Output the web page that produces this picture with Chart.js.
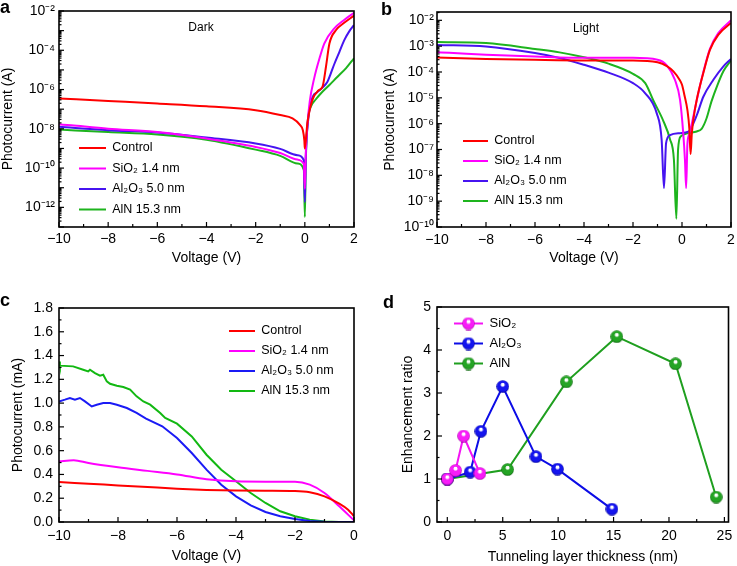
<!DOCTYPE html>
<html><head><meta charset="utf-8">
<script src="https://cdn.jsdelivr.net/npm/chart.js@4.4.0/dist/chart.umd.min.js"></script>
<style>
html,body{margin:0;padding:0;background:#fff;}
#wrap{position:relative;width:737px;height:566px;overflow:hidden;}
.pane{position:absolute;}
.pane canvas{display:block;}
.lbl{position:absolute;font:bold 18px "Liberation Sans",Arial,sans-serif;line-height:18px;color:#000;}
</style></head><body>
<div id="wrap">
  <div class="pane" style="left:0;top:0;"><canvas id="cA" width="368" height="280"></canvas></div>
  <div class="pane" style="left:368px;top:0;"><canvas id="cB" width="369" height="280"></canvas></div>
  <div class="pane" style="left:0;top:280px;"><canvas id="cC" width="368" height="286"></canvas></div>
  <div class="pane" style="left:368px;top:280px;"><canvas id="cD" width="369" height="286"></canvas></div>
  <div class="lbl" style="left:0;top:-2px;">a</div>
  <div class="lbl" style="left:381px;top:0;">b</div>
  <div class="lbl" style="left:0;top:291px;">c</div>
  <div class="lbl" style="left:383px;top:293px;">d</div>
</div>
<script>
// ---------------- DATA ----------------
// Panel a: dark current (A)
const darkV_ctrl = [-10,-8,-6,-4,-2,-1,-0.5,-0.2,-0.08,-0.02,0,0.1,0.3,0.55,0.72,0.86,1.0,1.27,1.6,2.0];
const darkI_ctrl = [3.55e-7,2.63e-7,1.95e-7,1.41e-7,8.9e-8,5.0e-8,3.4e-8,1.58e-8,8.5e-9,2.6e-9,1.0e-9,1.8e-8,2.8e-7,8.9e-7,1.4e-6,1.45e-5,2.2e-4,1.07e-3,2.5e-3,5.8e-3];
const darkV_sio2 = [-10,-9.5,-8,-6,-4,-2,-1,-0.3,-0.04,0,0.04,0.11,0.2,0.38,0.6,0.79,1.2,1.6,2.0];
const darkI_sio2 = [1.7e-8,1.5e-8,1.02e-8,6.9e-9,3.2e-9,1.2e-9,5.9e-10,2.7e-10,1.6e-10,8.9e-12,6.3e-10,1.86e-8,2.5e-7,3.7e-6,4.0e-5,2.2e-4,1.3e-3,3.5e-3,8.1e-3];
const darkV_al2o3 = [-10,-8,-6,-4,-2,-1,-0.3,-0.04,0,0.04,0.15,0.31,0.52,0.72,0.92,1.05,1.2,1.4,1.6,1.8,2.0];
const darkI_al2o3 = [1.26e-8,8.5e-9,6.5e-9,3.6e-9,1.78e-9,9.5e-10,4.5e-10,2.5e-10,1.86e-12,4.0e-10,4.0e-8,4.0e-7,7.6e-7,1.26e-6,2.5e-6,6.3e-6,2.0e-5,7.9e-5,3.2e-4,8.9e-4,1.9e-3];
const darkV_aln = [-10,-8,-6,-4,-2,-1,-0.3,-0.04,0,0.04,0.12,0.24,0.45,0.65,0.99,1.33,1.67,2.0];
const darkI_aln = [9.1e-9,6.9e-9,5.2e-9,2.8e-9,8.7e-10,4.2e-10,1.7e-10,7.9e-11,3.2e-13,2.5e-10,2.5e-8,1.3e-7,3.2e-7,6.3e-7,1.66e-6,4.5e-6,1.2e-5,3.9e-5];

// Panel b: light current (A)
const lightV_ctrl = [-10,-8,-6,-4,-2,-1,-0.6,-0.35,-0.1,0,0.1,0.22,0.3,0.35,0.4,0.47,0.6,0.87,1.14,1.48,2.0];
const lightI_ctrl = [3.6e-4,3.2e-4,2.95e-4,2.8e-4,2.8e-4,2.4e-4,1.66e-4,1.05e-4,5.0e-5,3.2e-5,1.26e-5,3.4e-6,6.3e-7,6.6e-8,4.0e-7,1.58e-6,8.3e-6,9.1e-5,7.2e-4,2.75e-3,7.9e-3];
const lightV_sio2 = [-10,-9.5,-8,-6,-4,-2,-1,-0.63,-0.29,-0.08,0.05,0.12,0.17,0.22,0.3,0.4,0.6,0.87,1.14,1.48,2.0];
const lightI_sio2 = [5.75e-4,5.5e-4,4.7e-4,4.0e-4,3.55e-4,3.55e-4,3.0e-4,1.86e-4,5.0e-5,8.3e-6,4.3e-7,4.0e-8,3.2e-9,1.58e-7,4.0e-7,1.0e-6,7.9e-6,1.0e-4,7.9e-4,3.2e-3,1.0e-2];
const lightV_al2o3 = [-10,-8,-6,-5,-4,-3,-2,-1.5,-1.03,-0.83,-0.735,-0.65,-0.49,-0.08,0.26,0.6,0.87,1.28,1.69,2.0];
const lightI_al2o3 = [1.12e-3,9.8e-4,5.4e-4,3.5e-4,1.9e-4,9.5e-5,3.7e-5,1.5e-5,2.5e-6,2.3e-7,3.2e-9,1.74e-7,3.6e-7,4.3e-7,4.9e-7,2.1e-6,1.1e-5,5.0e-5,1.66e-4,3.2e-4];
const lightV_aln = [-10,-8,-6,-5,-4,-3,-2,-1.5,-1.17,-0.76,-0.49,-0.33,-0.23,-0.16,-0.05,0.26,0.6,0.8,1.0,1.2,1.45,1.7,2.0];
const lightI_aln = [1.45e-3,1.32e-3,7.8e-4,5.75e-4,3.7e-4,2.1e-4,8.5e-5,3.7e-5,7.9e-6,1.26e-6,2.5e-7,4.0e-8,2.1e-10,1.0e-7,3.2e-7,4.3e-7,5.0e-7,6.3e-7,1.58e-6,7.1e-6,3.2e-5,1.12e-4,2.8e-4];

// Panel c: photocurrent (mA)
const pcV_ctrl = [-10,-9,-8,-7,-6,-5,-4,-3,-2,-1.5,-1,-0.5,-0.2,0];
const pcI_ctrl = [0.336,0.322,0.308,0.294,0.28,0.27,0.264,0.262,0.26,0.25,0.216,0.154,0.104,0.048];
const pcV_sio2 = [-10,-9.5,-9,-8,-7,-6,-5,-4,-3,-2,-1.5,-1,-0.5,0];
const pcI_sio2 = [0.51,0.52,0.496,0.46,0.43,0.40,0.36,0.342,0.339,0.339,0.314,0.244,0.132,0.014];
const pcV_al2o3 = [-10,-9.8,-9.63,-9.46,-9.29,-9.12,-8.89,-8.72,-8.5,-8.27,-8.04,-7.7,-7.37,-7.05,-6.5,-6,-5.5,-5,-4.5,-4,-3.5,-3,-2.5,-2,-1.5,-1,-0.5,0];
const pcI_al2o3 = [1.014,1.029,1.043,1.029,1.043,1.015,0.972,0.986,1.0,1.0,0.986,0.959,0.917,0.87,0.805,0.706,0.58,0.44,0.314,0.216,0.14,0.084,0.048,0.025,0.008,0.002,0,0];
const pcV_aln = [-10,-9.97,-9.52,-9.18,-9.01,-8.95,-8.78,-8.61,-8.5,-8.38,-8.27,-8.04,-7.82,-7.59,-7.37,-7.14,-6.91,-6.57,-6.4,-6,-5.5,-5,-4.5,-4,-3.5,-3,-2.5,-2,-1.5,-1,-0.5,0];
const pcI_aln = [1.35,1.315,1.309,1.281,1.267,1.281,1.253,1.231,1.239,1.183,1.163,1.146,1.135,1.113,1.057,1.014,0.987,0.917,0.875,0.827,0.72,0.566,0.44,0.342,0.244,0.16,0.09,0.048,0.02,0.005,0,0];

// Panel d: enhancement ratio vs thickness (nm)
const thick_sio2 = [0,0.74,1.47,2.94];
const ratio_sio2 = [1.0,1.2,2.0,1.13];
const thick_al2o3 = [0,2.06,3.03,5.0,8.0,9.94,14.85];
const ratio_al2o3 = [1.0,1.16,2.11,3.15,1.52,1.23,0.3];
const thick_aln = [0,5.44,10.74,15.29,20.59,24.26];
const ratio_aln = [1.0,1.22,3.26,4.31,3.68,0.58];

// Tick labels
const ticksV_ab = [-10,-8,-6,-4,-2,0,2];
const ticksV_c = [-10,-8,-6,-4,-2,0];
const ticksI_a = [1e-2,1e-4,1e-6,1e-8,1e-10,1e-12];
const ticksI_b = [1e-2,1e-3,1e-4,1e-5,1e-6,1e-7,1e-8,1e-9,1e-10];
const ticksI_c = [0,0.2,0.4,0.6,0.8,1.0,1.2,1.4,1.6,1.8];
const ticksT_d = [0,5,10,15,20,25];
const ticksR_d = [0,1,2,3,4,5];

const names = ['Control','SiO\u2082 1.4 nm','Al\u2082O\u2083 5.0 nm','AlN 15.3 nm'];
const namesD = ['SiO\u2082','Al\u2082O\u2083','AlN'];

// ---------------- HELPERS ----------------
const FONT = '"Liberation Sans", Arial, sans-serif';
Chart.defaults.font.family = FONT;
Chart.defaults.color = '#000';
const SUP = {'-':'\u207B','0':'\u2070','1':'\u00B9','2':'\u00B2','3':'\u00B3','4':'\u2074','5':'\u2075','6':'\u2076','7':'\u2077','8':'\u2078','9':'\u2079'};
const powLabel = v => '10' + String(Math.round(Math.log10(v))).split('').map(c => SUP[c]).join('');
const minusLabel = v => (v < 0 ? '\u2212' : '') + Math.abs(v);
const pts = (xs, ys) => xs.map((x, i) => ({x, y: ys[i]}));
function range(a, b, s) { const r = []; for (let v = a; v <= b + 1e-9; v += s) r.push(+v.toFixed(4)); return r; }
function logTicks(dmin, dmax, vmax) {
  const major = [], minor = [];
  for (let d = dmin; d <= dmax; d++) {
    major.push(Math.pow(10, d));
    for (let k = 2; k <= 9; k++) { const v = k * Math.pow(10, d); if (v <= vmax) minor.push(v); }
  }
  return {major, minor};
}

function framePlugin(cfg) {
  return {
    id: 'frame',
    afterDraw(chart) {
      const {ctx, chartArea: a} = chart;
      const sx = chart.scales.x, sy = chart.scales.y;
      ctx.save();
      ctx.strokeStyle = '#000';
      ctx.lineWidth = 1.2;
      const tick = (vals, len, axis) => {
        for (const v of vals) {
          if (axis === 'x') {
            const p = sx.getPixelForValue(v);
            if (p < a.left - 0.5 || p > a.right + 0.5) continue;
            ctx.beginPath(); ctx.moveTo(p, a.bottom); ctx.lineTo(p, a.bottom - len); ctx.stroke();
          } else {
            const p = sy.getPixelForValue(v);
            if (p < a.top - 0.5 || p > a.bottom + 0.5) continue;
            ctx.beginPath(); ctx.moveTo(a.left, p); ctx.lineTo(a.left + len, p); ctx.stroke();
          }
        }
      };
      tick(cfg.xMajor, 5, 'x'); tick(cfg.xMinor, 3, 'x');
      tick(cfg.yMajor, 5, 'y'); tick(cfg.yMinor, 2.5, 'y');
      ctx.lineWidth = 1.6;
      ctx.strokeRect(a.left, a.top, a.right - a.left, a.bottom - a.top);
      if (cfg.note) {
        ctx.font = cfg.note.size + 'px ' + FONT;
        ctx.fillStyle = '#000'; ctx.textAlign = 'center'; ctx.textBaseline = 'middle';
        ctx.fillText(cfg.note.text, cfg.note.x, cfg.note.y);
      }
      ctx.restore();
    }
  };
}
function legendPosPlugin(x, y, fs, pad) {
  return {
    id: 'legendPos',
    afterLayout(chart) {
      const lg = chart.legend; if (!lg) return;
      lg.left = x - pad; lg.top = y - fs / 2 - pad;
      lg.width = 300; lg.height = 300;
      lg.right = lg.left + 300; lg.bottom = lg.top + 300;
    }
  };
}

function makeChart(id, p) {
  const W = p.W, H = p.H;
  const legendLabels = {
    color: '#000',
    font: {size: p.legend.fs},
    padding: p.legend.pad,
    boxWidth: p.legend.boxWidth,
    boxHeight: p.legend.boxHeight || 2,
    usePointStyle: !!p.legend.images,
    pointStyleWidth: p.legend.images ? p.legend.boxWidth : undefined,
    generateLabels: (chart) => chart.data.datasets.map((ds, i) => ({
      text: ds.label, fillStyle: ds.borderColor, strokeStyle: ds.borderColor, lineWidth: 0,
      hidden: false, datasetIndex: i, fontColor: '#000',
      pointStyle: p.legend.images ? p.legend.images[i] : undefined
    }))
  };
  return new Chart(document.getElementById(id), {
    type: 'line',
    data: {datasets: p.datasets},
    options: {
      responsive: false, animation: false, devicePixelRatio: 1,
      layout: {padding: {left: 0, top: p.area.top, right: W - p.area.right, bottom: 0}},
      plugins: {
        legend: {display: true, position: 'chartArea', align: 'start', labels: legendLabels},
        tooltip: {enabled: false}
      },
      elements: {line: {borderWidth: 2}},
      scales: {
        x: {
          type: 'linear', min: p.x.min, max: p.x.max,
          afterBuildTicks: s => { s.ticks = p.x.ticks.map(v => ({value: v})); },
          afterFit: s => { s.height = H - p.area.bottom; s.paddingLeft = 0; s.paddingRight = 0; },
          ticks: {autoSkip: false, maxRotation: 0, padding: p.x.pad, font: {size: 14}, callback: p.x.fmt},
          grid: {display: false, drawTicks: false}, border: {display: false},
          title: {display: true, text: p.x.title, font: {size: 14}, padding: {top: 0, bottom: p.x.titlePad}}
        },
        y: {
          type: p.y.type, min: p.y.min, max: p.y.max,
          afterBuildTicks: s => { s.ticks = p.y.ticks.map(v => ({value: v})); },
          afterFit: s => { s.width = p.area.left; s.paddingTop = 0; s.paddingBottom = 0; },
          ticks: {autoSkip: false, padding: p.y.pad, font: {size: 14}, callback: p.y.fmt},
          grid: {display: false, drawTicks: false}, border: {display: false},
          title: {display: true, text: p.y.title, font: {size: 14}, padding: {top: p.y.titlePad, bottom: 0}}
        }
      }
    },
    plugins: [legendPosPlugin(p.legend.x, p.legend.y, p.legend.fs, p.legend.pad), framePlugin(p.frame)]
  });
}

const RED = '#ff0000', MAG = '#ff00ff', BLUE = '#4614f0', GREEN = '#1eb41e';
const lineDS = (label, data, color, smooth) => ({
  label, data, borderColor: color, backgroundColor: color, borderWidth: 2,
  pointRadius: 0, fill: false, cubicInterpolationMode: smooth ? 'monotone' : 'default', tension: 0
});

// ---------- Panel a ----------
const la = logTicks(-13, -2, 1e-2);
makeChart('cA', {
  W: 368, H: 280, area: {left: 59, right: 354, top: 11, bottom: 227},
  datasets: [
    lineDS(names[0], pts(darkV_ctrl, darkI_ctrl), RED, true),
    lineDS(names[1], pts(darkV_sio2, darkI_sio2), MAG, true),
    lineDS(names[2], pts(darkV_al2o3, darkI_al2o3), BLUE, true),
    lineDS(names[3], pts(darkV_aln, darkI_aln), GREEN, true)
  ],
  x: {min: -10, max: 2, ticks: ticksV_ab, fmt: minusLabel, pad: 4, title: 'Voltage (V)', titlePad: 13.6},
  y: {type: 'logarithmic', min: 1e-13, max: 1e-2, ticks: ticksI_a, fmt: powLabel, pad: 4, title: 'Photocurrent (A)', titlePad: 0},
  legend: {x: 79, y: 148, fs: 12.5, pad: 8, boxWidth: 27},
  frame: {xMajor: range(-10, 2, 2), xMinor: range(-9, 1, 2), yMajor: la.major, yMinor: la.minor,
          note: {text: 'Dark', x: 201, y: 28, size: 12}}
});

// ---------- Panel b ----------
const lb = logTicks(-10, -2, 0.021);
makeChart('cB', {
  W: 369, H: 280, area: {left: 69, right: 363, top: 12, bottom: 227},
  datasets: [
    lineDS(names[0], pts(lightV_ctrl, lightI_ctrl), RED, true),
    lineDS(names[1], pts(lightV_sio2, lightI_sio2), MAG, true),
    lineDS(names[2], pts(lightV_al2o3, lightI_al2o3), BLUE, true),
    lineDS(names[3], pts(lightV_aln, lightI_aln), GREEN, true)
  ],
  x: {min: -10, max: 2, ticks: ticksV_ab, fmt: minusLabel, pad: 5, title: 'Voltage (V)', titlePad: 13.6},
  y: {type: 'logarithmic', min: 1e-10, max: 0.021, ticks: ticksI_b, fmt: powLabel, pad: 3, title: 'Photocurrent (A)', titlePad: 13.3},
  legend: {x: 95, y: 141, fs: 12.5, pad: 7.5, boxWidth: 25},
  frame: {xMajor: range(-10, 2, 2), xMinor: range(-9, 1, 2), yMajor: lb.major, yMinor: lb.minor,
          note: {text: 'Light', x: 218, y: 29, size: 12}}
});

// ---------- Panel c ----------
makeChart('cC', {
  W: 368, H: 286, area: {left: 59, right: 354, top: 28, bottom: 242},
  datasets: [
    lineDS(names[0], pts(pcV_ctrl, pcI_ctrl), RED, true),
    lineDS(names[1], pts(pcV_sio2, pcI_sio2), MAG, true),
    lineDS(names[2], pts(pcV_al2o3, pcI_al2o3), '#1a1af5', false),
    lineDS(names[3], pts(pcV_aln, pcI_aln), '#12b812', false)
  ],
  x: {min: -10, max: 0, ticks: ticksV_c, fmt: minusLabel, pad: 6, title: 'Voltage (V)', titlePad: 1.6},
  y: {type: 'linear', min: 0, max: 1.8, ticks: ticksI_c, fmt: v => v.toFixed(1), pad: 6, title: 'Photocurrent (mA)', titlePad: 9.6},
  legend: {x: 229, y: 51, fs: 12.5, pad: 7.5, boxWidth: 26},
  frame: {xMajor: range(-10, 0, 2), xMinor: range(-9, -1, 2), yMajor: range(0, 1.8, 0.2), yMinor: range(0.1, 1.7, 0.2)}
});

// ---------- Panel d ----------
function sphere(base, dark, d) {
  const c = document.createElement('canvas'); c.width = d; c.height = d;
  const g = c.getContext('2d'); const r = d / 2;
  const grad = g.createRadialGradient(r * 1.0, r * 0.62, 0.3, r, r, r);
  grad.addColorStop(0, '#ffffff'); grad.addColorStop(0.18, '#ffffff');
  grad.addColorStop(0.35, base); grad.addColorStop(0.8, base); grad.addColorStop(1, dark);
  g.fillStyle = grad; g.beginPath(); g.arc(r, r, r - 0.2, 0, Math.PI * 2); g.fill();
  return c;
}
function legendImg(color, sph, w, h) {
  const c = document.createElement('canvas'); c.width = w; c.height = h;
  const g = c.getContext('2d');
  g.strokeStyle = color; g.lineWidth = 2; g.beginPath(); g.moveTo(0, h / 2); g.lineTo(w, h / 2); g.stroke();
  g.drawImage(sph, (w - sph.width) / 2, (h - sph.height) / 2);
  return c;
}
const DMAG = '#f414f4', DBLUE = '#0c0ce6', DGREEN = '#1f9f1f';
const spM = sphere('#f81cf8', '#a000a0', 13), spB = sphere('#1414ee', '#000090', 13), spG = sphere('#24a424', '#0a5a0a', 13);
const dDS = (label, data, color, sp) => ({
  label, data, borderColor: color, backgroundColor: color, borderWidth: 2,
  pointStyle: sp, pointRadius: 6.5, fill: false, tension: 0
});
makeChart('cD', {
  W: 369, H: 286, area: {left: 69, right: 367, top: 27, bottom: 242},
  datasets: [
    dDS(namesD[0], pts(thick_sio2, ratio_sio2), DMAG, spM),
    dDS(namesD[1], pts(thick_al2o3, ratio_al2o3), DBLUE, spB),
    dDS(namesD[2], pts(thick_aln, ratio_aln), DGREEN, spG)
  ],
  x: {min: -0.93, max: 25.37, ticks: ticksT_d, fmt: v => String(v), pad: 6, title: 'Tunneling layer thickness (nm)', titlePad: 0.9},
  y: {type: 'linear', min: 0, max: 5, ticks: ticksR_d, fmt: v => String(v), pad: 6, title: 'Enhancement ratio', titlePad: 31.6},
  legend: {x: 86, y: 43.5, fs: 13, pad: 7, boxWidth: 29, boxHeight: 13,
           images: [legendImg(DMAG, spM, 29, 14), legendImg(DBLUE, spB, 29, 14), legendImg(DGREEN, spG, 29, 14)]},
  frame: {xMajor: range(0, 25, 5), xMinor: range(2.5, 22.5, 5), yMajor: range(0, 5, 1), yMinor: range(0.5, 4.5, 1)}
});
</script>
</body></html>
